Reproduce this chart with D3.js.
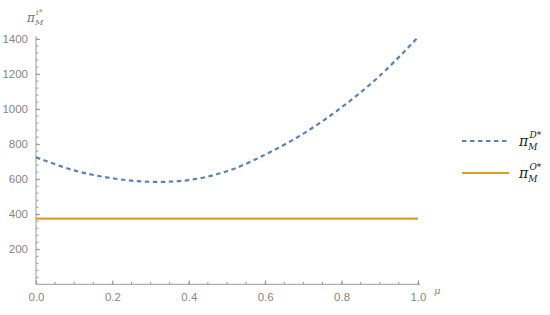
<!DOCTYPE html>
<html>
<head>
<meta charset="utf-8">
<script src="https://cdn.jsdelivr.net/npm/d3@7"></script>
<style>
  body { margin: 0; background: #fff; }
  svg { font-family: "Liberation Sans", Arial, sans-serif; }
  .axis path, .axis line { stroke: #9a9a9a; }
  .axis text { fill: #858585; font-size: 11.5px; }
</style>
</head>
<body>
<svg id="chart" width="550" height="315"></svg>
<script>
(function () {
  'use strict';

  var mu = [0, 0.1, 0.2, 0.3, 0.4, 0.5, 0.6, 0.7, 0.8, 0.9, 1.0];
  var piD = [725, 650, 605, 585, 595, 645, 740, 860, 1010, 1190, 1410]; // dashed blue
  var piO = [375, 375, 375, 375, 375, 375, 375, 375, 375, 375, 375];   // orange flat
  var xTicks = [0, 0.2, 0.4, 0.6, 0.8, 1.0];
  var yTicks = [200, 400, 600, 800, 1000, 1200, 1400];
  var xMinor = d3.range(0, 1.0001, 0.05);
  var yMinor = d3.range(40, 1441, 40);

  var BLUE = '#5e81b5';
  var ORANGE = '#e19c24';

  var svg = d3.select('#chart');
  var x = d3.scaleLinear().domain([0, 1]).range([36, 418]);
  var y = d3.scaleLinear().domain([0, 1400]).range([284.3, 39]);

  // minor ticks
  svg.append('g').selectAll('line').data(xMinor).enter().append('line')
    .attr('x1', function (d) { return x(d); }).attr('x2', function (d) { return x(d); })
    .attr('y1', y(0)).attr('y2', y(0) - 2.5)
    .attr('stroke', '#9a9a9a');
  svg.append('g').selectAll('line').data(yMinor.filter(function (d) { return d <= 1420; })).enter().append('line')
    .attr('y1', function (d) { return y(d); }).attr('y2', function (d) { return y(d); })
    .attr('x1', x(0)).attr('x2', x(0) + 2.5)
    .attr('stroke', '#9a9a9a');

  var xAxis = d3.axisBottom(x).tickValues(xTicks).tickSize(-4).tickPadding(9)
    .tickFormat(d3.format('.1f'));
  var gx = svg.append('g').attr('class', 'axis').attr('transform', 'translate(0,' + y(0) + ')').call(xAxis);
  gx.select('.domain').attr('d', 'M' + x(0) + ',0H' + (x(1) + 2));

  var yAxis = d3.axisLeft(y).tickValues(yTicks).tickSize(-4).tickPadding(8)
    .tickFormat(d3.format('d'));
  var gy = svg.append('g').attr('class', 'axis').attr('transform', 'translate(' + x(0) + ',0)').call(yAxis);
  gy.select('.domain').attr('d', 'M0,' + y(0) + 'V' + (y(1400) - 3));

  // axis labels
  var yl = svg.append('text').attr('x', 27).attr('y', 22).attr('fill', '#777')
    .style('font-family', '"DejaVu Serif", serif').style('font-style', 'italic').style('font-size', '12px');
  yl.append('tspan').text('π');
  yl.append('tspan').attr('dy', 3).style('font-size', '8px').text('M');
  yl.append('tspan').attr('dx', -7).attr('dy', -10).style('font-size', '8px').text('i*');

  svg.append('text').attr('x', 434).attr('y', 294).attr('fill', '#888')
    .style('font-family', '"DejaVu Serif", serif').style('font-style', 'italic').style('font-size', '10px')
    .text('μ');

  var line = d3.line()
    .x(function (d, i) { return x(mu[i]); })
    .y(function (d) { return y(d); })
    .curve(d3.curveCatmullRom);

  svg.append('path').datum(piO).attr('d', line)
    .attr('fill', 'none').attr('stroke', ORANGE).attr('stroke-width', 2.2);

  svg.append('path').datum(piD).attr('d', line)
    .attr('fill', 'none').attr('stroke', BLUE).attr('stroke-width', 2.2)
    .attr('stroke-dasharray', '4.5,3.5');

  // legend
  var legend = [
    { label: 'D*', color: BLUE, dash: '4.5,3.5', y: 141 },
    { label: 'O*', color: ORANGE, dash: null, y: 173 }
  ];
  var lg = svg.append('g').selectAll('g').data(legend).enter().append('g');
  lg.append('line')
    .attr('x1', 462).attr('x2', 509)
    .attr('y1', function (d) { return d.y; }).attr('y2', function (d) { return d.y; })
    .attr('stroke', function (d) { return d.color; }).attr('stroke-width', 2.2)
    .attr('stroke-dasharray', function (d) { return d.dash; });
  var lt = lg.append('text').attr('x', 519).attr('y', function (d) { return d.y + 5; })
    .attr('fill', '#222')
    .style('font-family', '"DejaVu Serif", serif').style('font-style', 'italic').style('font-size', '14px');
  lt.append('tspan').text('π');
  lt.append('tspan').attr('dy', 4).style('font-size', '9px').text('M');
  lt.append('tspan').attr('dx', -8).attr('dy', -12).style('font-size', '9px').text(function (d) { return d.label; });
})();
</script>
</body>
</html>
